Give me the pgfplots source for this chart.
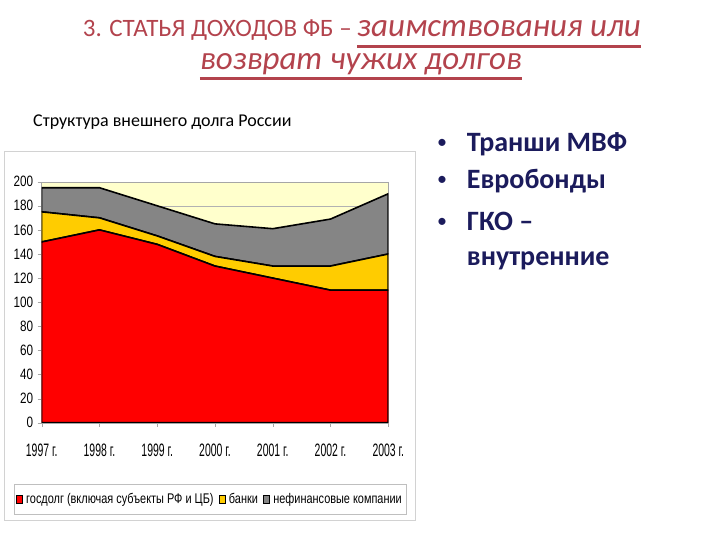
\documentclass[border=0pt]{standalone}
\usepackage{pgfplots}
\pgfplotsset{compat=1.18}
\usepackage{fontspec}
\setmainfont{Carlito}
\newfontfamily\ylab{Liberation Sans}[FakeStretch=0.78]
\newfontfamily\xlab{Liberation Sans}[FakeStretch=0.58]
\newfontfamily\leg{Liberation Sans}[FakeStretch=0.78]
\definecolor{titlered}{HTML}{B3434D}
\definecolor{navy}{HTML}{1B1B5C}
\definecolor{bank}{HTML}{FFCC00}
\definecolor{nonfin}{HTML}{858585}
\definecolor{plotbg}{HTML}{FFFFCC}

% debt structure, bn USD
\pgfplotstableread{
x gov bank nonfin
0 150 25 20
1 160 10 25
2 148 7  25
3 130 8  27
4 120 10 31
5 110 20 39
6 110 30 50
}\debt

\begin{document}
\begin{tikzpicture}
\fill[white] (0,0) rectangle (720pt,-540pt);
\begin{scope}[x=1pt,y=-1pt, every node/.style={inner sep=0pt}]
  % title
  \node[anchor=base east, text=titlered, font=\fontsize{25}{28}\selectfont] at (352,36.7) {3. СТАТЬЯ ДОХОДОВ ФБ –};
  \node[anchor=base west, text=titlered, font=\itshape\fontsize{33}{36}\selectfont] (t1) at (357,36.7) {заимствования или};
  \node[anchor=base, text=titlered, font=\itshape\fontsize{33}{36}\selectfont] (t2) at (361,70) {возврат чужих долгов};
  \draw[titlered, line width=2.5pt] (t1.west |- 0,46.5) -- (t1.east |- 0,46.5);
  \draw[titlered, line width=2.5pt] (t2.west |- 0,78.5) -- (t2.east |- 0,78.5);
  % subtitle
  \node[anchor=base west, font=\fontsize{18}{21}\selectfont] at (33,127) {Структура внешнего долга России};
  % bullets
  \begin{scope}[every node/.style={inner sep=0pt, anchor=base west, text=navy, font=\bfseries\fontsize{28}{32}\selectfont}]
    \node[font=\fontsize{20}{24}\selectfont] at (437,149) {•}; \node at (466.7,151.7) {Транши МВФ};
    \node[font=\fontsize{20}{24}\selectfont] at (437,186) {•}; \node at (466.7,188.3) {Евробонды};
    \node[font=\fontsize{20}{24}\selectfont] at (437,227.5) {•}; \node at (466.7,230) {ГКО –};
    \node at (466.7,265) {внутренние};
  \end{scope}
  % chart area frame
  \draw[gray!35, line width=1pt] (4,151.7) rectangle (415,520);
\end{scope}
\begin{axis}[
  at={(41.7pt,-422.7pt)}, anchor=south west,
  width=346.6pt, height=241pt, scale only axis,
  xmin=0, xmax=6, ymin=0, ymax=200,
  stack plots=y,
  axis background/.style={fill=plotbg},
  axis line style={gray!70},
  ytick={0,20,...,200},
  xtick={0,...,6},
  xticklabels={1997 г.,1998 г.,1999 г.,2000 г.,2001 г.,2002 г.,2003 г.},
  ymajorgrids, grid style={gray!60, line width=0.4pt},
  tick align=outside, major tick length=4pt,
  tick style={gray!70},
  xtick pos=bottom, ytick pos=left,
  /pgf/number format/assume math mode=true,
  yticklabel style={font=\ylab\fontsize{15}{17}\selectfont, xshift=-1pt},
  xticklabel style={font=\xlab\fontsize{18}{20}\selectfont, yshift=-14pt},
  legend columns=3,
  legend style={at={(0.485,-0.318)}, anchor=center, draw=gray!50,
    font=\leg\fontsize{14}{16}\selectfont, inner xsep=2pt, inner ysep=7pt,
    /tikz/every odd column/.append style={column sep=2pt},
    /tikz/every even column/.append style={column sep=3pt}},
  legend image code/.code={\draw[#1, draw=black, line width=0.4pt] (0pt,-4pt) rectangle (6pt,4pt);},
]
\addplot[fill=red, draw=black, line width=1.6pt] table[x=x, y=gov] {\debt} \closedcycle;
\addplot[fill=bank, draw=black, line width=1.6pt] table[x=x, y=bank] {\debt} \closedcycle;
\addplot[fill=nonfin, draw=black, line width=1.6pt] table[x=x, y=nonfin] {\debt} \closedcycle;
\legend{госдолг (включая субъекты РФ и ЦБ), банки, нефинансовые компании}
\end{axis}
\end{tikzpicture}
\end{document}
